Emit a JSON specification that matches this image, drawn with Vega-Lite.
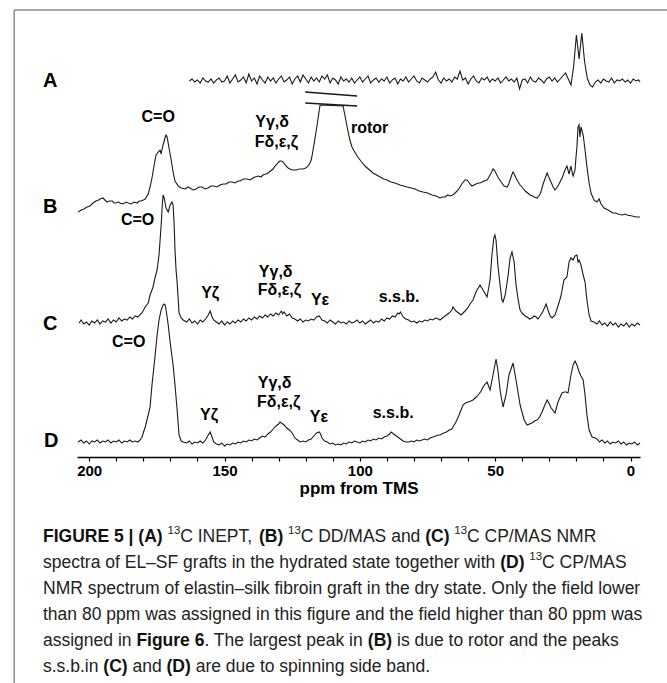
{
  "$schema": "https://vega.github.io/schema/vega-lite/v6.json",
  "width": 563,
  "height": 447,
  "autosize": {"type": "none"},
  "padding": {"left": 77, "top": 10, "right": 27, "bottom": 226},
  "background": "white",
  "config": {"view": {"stroke": null}, "font": "Liberation Sans"},
  "datasets": {
    "frame": [
      {"ppm": 227.7, "ppm2": -13.5, "v": 447, "v2": 447},
      {"ppm": 227.7, "ppm2": 227.7, "v": 447, "v2": -226}
    ],
    "breaks": [
      {"brk": 1, "ppm": 120.2, "v": 365},
      {"brk": 1, "ppm": 110.6, "v": 363},
      {"brk": 1, "ppm": 101.0, "v": 361},
      {"brk": 2, "ppm": 120.2, "v": 354},
      {"brk": 2, "ppm": 110.6, "v": 352.5},
      {"brk": 2, "ppm": 101.0, "v": 351}
    ],
    "panelLabels": [
      {"text": "A", "ppm": 214.4, "v": 376},
      {"text": "B", "ppm": 214.4, "v": 250},
      {"text": "C", "ppm": 214.4, "v": 133},
      {"text": "D", "ppm": 214.0, "v": 16}
    ],
    "peakLabels": [
      {"text": "C=O", "ppm": 174.5, "v": 340},
      {"text": "Yγ,δ", "ppm": 132.4, "v": 335},
      {"text": "Fδ,ε,ζ", "ppm": 130.8, "v": 315},
      {"text": "rotor", "ppm": 96.4, "v": 329},
      {"text": "C=O", "ppm": 182.1, "v": 237},
      {"text": "Yγ,δ", "ppm": 131.1, "v": 185},
      {"text": "Fδ,ε,ζ", "ppm": 129.7, "v": 167},
      {"text": "Yζ", "ppm": 155.3, "v": 164},
      {"text": "Yε", "ppm": 114.7, "v": 157},
      {"text": "s.s.b.", "ppm": 85.5, "v": 160},
      {"text": "C=O", "ppm": 185.4, "v": 115},
      {"text": "Yγ,δ", "ppm": 131.5, "v": 74},
      {"text": "Fδ,ε,ζ", "ppm": 130.0, "v": 55},
      {"text": "Yζ", "ppm": 155.7, "v": 42},
      {"text": "Yε", "ppm": 115.1, "v": 40},
      {"text": "s.s.b.", "ppm": 87.7, "v": 44}
    ],
    "spectra": [
      {"t":"A","ppm":[163,162,161,160,159,158,157,156,155,154],"v":[376,378,375,377,374,379,376,375,378,374]},
      {"t":"A","ppm":[153,152,151,150,149,148,147,146,145,144],"v":[377,379,375,376,381,374,378,382,375,377]},
      {"t":"A","ppm":[143,142,141,140,139,138,137,136,135,134],"v":[380,374,383,376,379,373,381,377,374,380]},
      {"t":"A","ppm":[133,132,131,130,129,128,127,126,125,124],"v":[376,379,374,378,381,375,377,380,373,378]},
      {"t":"A","ppm":[123,122,121,120,119,118,117,116,115,114],"v":[381,375,382,378,374,380,376,379,375,381]},
      {"t":"A","ppm":[113,112,111,110,109,108,107,106,105,104],"v":[378,382,374,379,377,373,380,376,378,375]},
      {"t":"A","ppm":[103,102,101,100,99,98,97,96,95,94],"v":[379,374,377,380,375,378,381,374,377,379]},
      {"t":"A","ppm":[93,92,91,90,89,88,87,86,85,84],"v":[375,378,376,380,374,377,379,373,378,376]},
      {"t":"A","ppm":[83,82,81,80,79,78,77,76,75,74],"v":[380,375,378,381,376,374,379,377,375,378]},
      {"t":"A","ppm":[73,72,71,70,69,68,67,66,65,64],"v":[380,385,377,374,379,376,378,375,380,378]},
      {"t":"A","ppm":[63,62,61,60,59,58,57,56,55,54],"v":[386,377,379,373,378,381,376,374,379,377]},
      {"t":"A","ppm":[53,52,51,50,49,48,47,46,45,44],"v":[380,375,378,376,379,374,377,380,376,378]},
      {"t":"A","ppm":[43,42,41,40,39,38,37,36,35,34],"v":[375,379,368,377,378,374,380,376,375,379]},
      {"t":"A","ppm":[33,32,31,30,29,28,27,26,25,24],"v":[377,374,378,380,376,379,375,378,381,384]},
      {"t":"A","ppm":[23,22,21,20,19,18,17,16,15,14],"v":[378,372,391,422,398,424,396,379,372,370]},
      {"t":"A","ppm":[13,12,11,10,9,8,7,6,5,4],"v":[375,377,374,378,376,375,379,374,377,376]},
      {"t":"A","ppm":[3,2,1,0,-1,-2,-3,-3.5],"v":[378,375,377,374,378,376,377,375]},

      {"t":"B","ppm":[204.1,202.9,201.9,200.8,199.7,198.6,197.5,196.5,196.0,194.9],"v":[245,247,248,250,251,254,256,257,258,259]},
      {"t":"B","ppm":[194.2,193.4,192.5,191.5,190.8,190.1,189.2,188.6,187.5,186.4],"v":[257,255,256,256,254,254,255,254,253,255]},
      {"t":"B","ppm":[185.5,184.5,183.4,182.3,181.5,180.8,180.0,179.3,178.2,177.5],"v":[254,253,255,254,256,256,257,258,263,270]},
      {"t":"B","ppm":[176.8,176.0,175.3,174.5,173.8,173.4,172.7,171.9,171.6,171.2],"v":[279,292,302,305,307,303,312,320,322,320]},
      {"t":"B","ppm":[170.5,169.7,169.0,168.3,167.1,166.0,164.5,163.5,162.8,161.6],"v":[309,297,285,276,271,269,268,270,269,267]},
      {"t":"B","ppm":[160.5,159.4,158.3,157.2,156.1,155.0,153.9,152.8,151.7,150.5],"v":[268,270,270,268,269,271,271,270,272,273]},
      {"t":"B","ppm":[149.4,148.3,147.2,146.1,145.0,144.3,143.0,141.7,140.5,139.6],"v":[273,275,275,274,276,276,278,278,277,279]},
      {"t":"B","ppm":[138.7,137.5,136.5,135.8,134.8,133.9,133.0,132.1,131.3,130.6],"v":[280,281,280,282,283,284,286,288,291,293]},
      {"t":"B","ppm":[130.0,129.5,129.0,128.4,127.8,127.3,126.5,125.8,124.7,123.6],"v":[295,296,296,295,293,291,289,288,287,287]},
      {"t":"B","ppm":[122.3,121.0,120.0,119.1,118.4,118.0,117.6,117.3,116.9,116.5],"v":[288,288,289,291,294,297,302,307,313,320]},
      {"t":"B","ppm":[115.8,115.1,114.7,106.2,105.4,104.7,103.6,102.9,102.1,101.0],"v":[332,345,352,351,340,330,316,310,306,301]},
      {"t":"B","ppm":[99.9,98.8,97.7,96.4,95.1,93.8,92.5,91.2,90.0,88.5],"v":[297,293,290,287,284,282,280,278,277,275]},
      {"t":"B","ppm":[87.0,85.2,83.8,82.6,81.0,79.6,78.1,76.7,75.0,73.3],"v":[274,272,271,270,269,268,266,265,264,262]},
      {"t":"B","ppm":[71.8,70.4,69.4,68.5,67.5,66.7,65.7,64.8,63.7,63.0],"v":[261,259,260,260,262,261,262,264,267,270]},
      {"t":"B","ppm":[62.3,61.5,61.1,60.4,59.8,59.3,58.6,57.8,57.1,56.3],"v":[273,276,277,277,275,273,271,272,273,274]},
      {"t":"B","ppm":[55.6,54.8,54.1,53.0,52.5,51.9,51.3,50.8,50.4,50.1],"v":[274,275,276,277,279,282,285,288,287,286]},
      {"t":"B","ppm":[49.0,47.8,46.7,45.6,45.0,44.5,43.9,43.4,42.8,42.3],"v":[280,275,271,270,273,277,282,285,282,279]},
      {"t":"B","ppm":[41.5,40.8,39.8,38.9,38.0,37.1,36.2,35.6,34.5,33.9],"v":[275,272,269,266,264,262,261,260,259,261]},
      {"t":"B","ppm":[33.4,32.8,32.3,31.5,30.8,30.2,29.7,28.6,27.9,26.8],"v":[263,268,273,279,284,280,277,270,267,271]},
      {"t":"B","ppm":[25.3,24.2,23.5,23.1,22.7,22.0,21.6,21.2,20.5,20.2],"v":[279,287,291,287,283,291,285,281,287,298]},
      {"t":"B","ppm":[19.8,19.4,19.0,18.7,18.3,17.9,17.5,16.8,16.1,15.3],"v":[310,330,332,320,330,326,322,307,290,274]},
      {"t":"B","ppm":[14.6,13.5,12.4,11.6,10.9,9.8,8.3,6.5,5.5,4.6],"v":[264,257,255,258,253,249,247,244,244,243]},
      {"t":"B","ppm":[3.1,2.0,1.3,-0.6,-2.0,-3.5],"v":[242,243,242,241,240,240]},

      {"t":"C","ppm":[203.7,203,202,201,200,199,198,197,196,195],"v":[134,137,133,135,132,136,134,137,133,136]},
      {"t":"C","ppm":[194,193,192,191,190,189,188,187,186,185],"v":[135,138,134,137,135,139,136,138,137,140]},
      {"t":"C","ppm":[184,183,182,181,180.5,179.3,178.2,177.5,176.4,175.7],"v":[138,141,140,143,144,150,154,162,170,179]},
      {"t":"C","ppm":[174.9,174.2,173.4,173.0,172.7,172.3,171.6,170.8,170.1,169.4],"v":[187,202,232,252,262,259,249,245,252,255]},
      {"t":"C","ppm":[169.0,168.6,168.3,167.9,167.5,167.1,166.8,166.0,165.3,164],"v":[252,232,207,187,174,157,144,139,137,135]},
      {"t":"C","ppm":[163,162,161,160,159,158,157,156,155.3,154.6],"v":[138,134,136,133,137,135,138,142,146,140]},
      {"t":"C","ppm":[154,153,152,151,150,149,148,147,146,145],"v":[137,135,133,136,132,135,133,136,134,137]},
      {"t":"C","ppm":[144,143,142,141,140,139,138,137,136,135],"v":[135,138,136,139,137,140,138,141,139,142]},
      {"t":"C","ppm":[134,133,132,131,130,129,128.5,128,127,126],"v":[140,143,141,144,142,146,143,145,141,143]},
      {"t":"C","ppm":[125,124,123,122,121,120,119,118,117,116],"v":[139,138,136,138,135,137,136,138,137,140]},
      {"t":"C","ppm":[115,114.5,114,113,112,111,110,109,108,107],"v":[141,139,137,136,134,137,135,133,136,134]},
      {"t":"C","ppm":[106,105,104,103,102,101,100,99,98,97],"v":[135,133,136,134,135,137,134,136,133,135]},
      {"t":"C","ppm":[96,95,94,93,92,91,90,89,88,87],"v":[137,134,136,135,138,136,139,138,141,140]},
      {"t":"C","ppm":[86,85.5,85,84,83,82,81,80,79,78],"v":[144,143,145,140,138,137,135,136,134,136]},
      {"t":"C","ppm":[77,76,75,74,73,72,71,70.4,69,68],"v":[135,137,136,138,137,139,138,137,140,142]},
      {"t":"C","ppm":[67,66,65.6,64.5,63.5,62.6,61.5,60.4,59.3,58.2],"v":[144,147,150,146,144,142,145,148,153,157]},
      {"t":"C","ppm":[57.1,55.6,54.5,53.0,51.9,51.2,50.5,50.1,49.7,49.0],"v":[165,172,167,160,177,202,219,222,217,192]},
      {"t":"C","ppm":[48.2,47.5,47.1,46.3,45.2,44.5,43.8,43.0,42.3,41.5],"v":[172,157,155,162,182,199,205,195,172,157]},
      {"t":"C","ppm":[40.8,40.1,39.0,38.2,37.3,36.4,35.6,34.9,34.2,33.4],"v":[147,144,141,140,138,139,141,140,138,141]},
      {"t":"C","ppm":[32.3,31.2,30.5,29.7,29.0,27.9,26.8,25.7,24.6,23.5],"v":[146,153,147,141,139,142,151,161,177,180]},
      {"t":"C","ppm":[22.7,22.0,21.2,20.5,19.8,19.4,19.0,18.3,17.5,16.8],"v":[195,199,197,201,202,195,197,192,182,175]},
      {"t":"C","ppm":[16.1,15.3,14.6,13.5,12.4,11.5,10.5,9.5,8.5,7.5],"v":[157,142,136,135,133,136,132,134,131,135]},
      {"t":"C","ppm":[6.5,5.5,4.5,3.5,2.5,1.5,0.5,-0.5,-1.5,-2.5,-3.5],"v":[132,134,130,133,131,134,130,133,131,134,132]},

      {"t":"D","ppm":[204.1,203,202,201,200,199,198,197,196,195],"v":[15,17,14,16,13,16,15,17,14,16]},
      {"t":"D","ppm":[194,193,192,191,190,189,188,187,186,185],"v":[15,17,14,16,15,17,14,16,15,17]},
      {"t":"D","ppm":[184,183,182,181.2,180.5,179.3,178.2,177.5,176.8,175.7],"v":[15,16,15,17,20,30,42,50,72,100]},
      {"t":"D","ppm":[174.9,174.2,173.4,172.7,172.3,171.9,171.6,171.2,170.8,170.1],"v":[122,137,147,152,153,152,147,140,132,115]},
      {"t":"D","ppm":[169.4,169.0,168.3,167.5,166.8,166.0,165.3,164,163,162],"v":[100,92,72,47,22,16,15,14,16,13]},
      {"t":"D","ppm":[161,160,159,158,157,156,155.3,154.6,154,153],"v":[15,14,16,14,17,22,25,20,15,13]},
      {"t":"D","ppm":[152,151,150,149,148,147,146,145,144,143],"v":[12,14,11,13,12,14,13,15,14,16]},
      {"t":"D","ppm":[142,141,140,139,138,137,136,135,134,133],"v":[15,17,16,18,17,19,21,20,23,25]},
      {"t":"D","ppm":[132,131,130,129.5,129,128,127,126,125,124],"v":[28,31,33,35,34,32,29,27,24,19]},
      {"t":"D","ppm":[123,122,121,120,119,118,117,116,115,114.5],"v":[17,15,16,15,17,18,21,24,25,23]},
      {"t":"D","ppm":[114,113,112,111,110,109,108,107,106,105],"v":[19,16,15,13,14,12,13,12,14,13]},
      {"t":"D","ppm":[104,103,102,101,100,99,98,97,96,95],"v":[15,14,16,15,14,16,15,17,16,18]},
      {"t":"D","ppm":[94,93,92,91,90,89,88.5,88,87,86],"v":[17,19,18,20,21,23,25,24,22,20]},
      {"t":"D","ppm":[85,84,83,82,81,80,79,78,77,76],"v":[18,16,15,15,16,15,17,16,17,18]},
      {"t":"D","ppm":[75,74,73,72,71,70.4,69,68,67,66],"v":[17,19,20,21,22,22,24,25,27,28]},
      {"t":"D","ppm":[65.6,64.5,63.5,62.6,61.9,61,60,59,58.2,57],"v":[30,35,41,47,52,54,55,56,57,60]},
      {"t":"D","ppm":[56,55.2,54.5,53.7,53.0,51.9,50.8,49.7,49.0,48.2],"v":[63,66,70,73,75,67,82,98,87,67]},
      {"t":"D","ppm":[47.1,46.0,44.9,43.4,42.3,40.8,39.3,38.2,37.3,36.4],"v":[50,62,82,94,77,52,37,32,33,34]},
      {"t":"D","ppm":[35.5,34.5,33.6,32.7,31.8,30.8,30.0,29.3,27.9,26.8],"v":[36,37,40,45,51,57,53,49,44,55]},
      {"t":"D","ppm":[25.3,24.5,23.8,23.1,22.0,21.2,20.5,19.8,19.0,18.3],"v":[64,65,65,64,82,92,96,92,85,81]},
      {"t":"D","ppm":[17.5,16.8,16.1,15.3,14.2,13.1,12.4,11.5,10.5,9.5],"v":[77,62,42,27,20,19,18,15,17,14]},
      {"t":"D","ppm":[8.5,7.5,6.5,5.5,4.5,3.5,2.5,1.5,0.5,-0.5],"v":[16,13,15,14,16,13,15,12,14,13]},
      {"t":"D","ppm":[-1.5,-2.5,-3.5],"v":[15,12,14]}
    ],
    "capReg": [
      {"line": 1, "col": 7.837, "text": "C INEPT,"},
      {"line": 1, "col": 14.727, "text": "C DD/MAS and"},
      {"line": 1, "col": 24.229, "text": "C CP/MAS NMR"},
      {"line": 2, "col": 0, "text": "spectra of EL–SF grafts in the hydrated state together with"},
      {"line": 2, "col": 28.514, "text": "C CP/MAS"},
      {"line": 3, "col": 0, "text": "NMR spectrum of elastin–silk fibroin graft in the dry state. Only the field lower"},
      {"line": 4, "col": 0, "text": "than 80 ppm was assigned in this figure and the field higher than 80 ppm was"},
      {"line": 5, "col": 0, "text": "assigned in"},
      {"line": 5, "col": 9.226, "text": ". The largest peak in"},
      {"line": 5, "col": 20.23, "text": "is due to rotor and the peaks"},
      {"line": 6, "col": 0, "text": "s.s.b.in"},
      {"line": 6, "col": 5.112, "text": "and"},
      {"line": 6, "col": 8.724, "text": "are due to spinning side band."}
    ],
    "capBold": [
      {"line": 1, "col": 0, "text": "FIGURE 5 | (A)"},
      {"line": 1, "col": 12.338, "text": "(B)"},
      {"line": 1, "col": 21.84, "text": "(C)"},
      {"line": 2, "col": 26.125, "text": "(D)"},
      {"line": 5, "col": 5.336, "text": "Figure 6"},
      {"line": 5, "col": 18.564, "text": "(B)"},
      {"line": 6, "col": 3.446, "text": "(C)"},
      {"line": 6, "col": 7.058, "text": "(D)"}
    ],
    "capSup": [
      {"line": 1, "col": 7.114, "text": "13"},
      {"line": 1, "col": 14.004, "text": "13"},
      {"line": 1, "col": 23.506, "text": "13"},
      {"line": 2, "col": 27.791, "text": "13"}
    ]
  },
  "layer": [
    {
      "encoding": {
        "x": {
          "field": "ppm", "type": "quantitative",
          "scale": {"domain": [-3.5, 204.5], "reverse": true, "nice": false, "zero": false},
          "axis": {
            "values": [0,10,20,30,40,50,60,70,80,90,100,110,120,130,140,150,160,170,180,190,200],
            "labelExpr": "datum.value % 50 === 0 ? datum.label : ''",
            "title": "ppm from TMS",
            "titleFont": "Liberation Sans", "titleFontSize": 17, "titleFontWeight": "bold", "titleColor": "#000", "titlePadding": 2,
            "labelFont": "Liberation Sans", "labelFontSize": 15, "labelFontWeight": "bold", "labelColor": "#000", "labelPadding": 2,
            "labelFlush": false, "labelOverlap": false,
            "tickSize": 4, "tickColor": "#000", "tickWidth": 1.2,
            "domainColor": "#000", "domainWidth": 1.5, "grid": false
          }
        },
        "y": {
          "field": "v", "type": "quantitative",
          "scale": {"domain": [0, 447], "nice": false, "zero": false},
          "axis": null
        }
      },
      "layer": [
        {
          "data": {"name": "frame"},
          "mark": {"type": "rule", "color": "#8a8a8a", "strokeWidth": 1.5},
          "encoding": {"x2": {"field": "ppm2"}, "y2": {"field": "v2"}}
        },
        {
          "data": {"name": "spectra"},
          "transform": [{"flatten": ["ppm", "v"]}],
          "mark": {"type": "line", "color": "#1a1a1a", "strokeWidth": 1.1},
          "encoding": {"detail": {"field": "t"}}
        },
        {
          "data": {"name": "breaks"},
          "mark": {"type": "line", "color": "#1a1a1a", "strokeWidth": 1.5, "interpolate": "monotone"},
          "encoding": {"detail": {"field": "brk"}}
        },
        {
          "data": {"name": "panelLabels"},
          "mark": {"type": "text", "font": "Liberation Sans", "fontSize": 20, "fontWeight": "bold", "color": "#000", "align": "center", "baseline": "middle"},
          "encoding": {"text": {"field": "text"}}
        },
        {
          "data": {"name": "peakLabels"},
          "mark": {"type": "text", "font": "Liberation Sans", "fontSize": 16, "fontWeight": "bold", "color": "#000", "align": "center", "baseline": "middle"},
          "encoding": {"text": {"field": "text"}}
        }
      ]
    },
    {
      "encoding": {
        "x": {
          "field": "col", "type": "quantitative",
          "scale": {"domain": [1.9429, 34.1143], "nice": false, "zero": false},
          "axis": null
        },
        "y": {
          "field": "line", "type": "quantitative",
          "scale": {"domain": [-19.269, -2.077], "reverse": true, "nice": false, "zero": false},
          "axis": null
        },
        "text": {"field": "text"}
      },
      "layer": [
        {
          "data": {"name": "capReg"},
          "mark": {"type": "text", "font": "Liberation Sans", "fontSize": 17.5, "color": "#222", "align": "left", "baseline": "middle"}
        },
        {
          "data": {"name": "capBold"},
          "mark": {"type": "text", "font": "Liberation Sans", "fontSize": 17.5, "fontWeight": "bold", "color": "#111", "align": "left", "baseline": "middle"}
        },
        {
          "data": {"name": "capSup"},
          "mark": {"type": "text", "font": "Liberation Sans", "fontSize": 11.5, "color": "#222", "align": "left", "baseline": "middle", "dy": -6}
        }
      ]
    }
  ],
  "resolve": {"scale": {"x": "independent", "y": "independent"}}
}
